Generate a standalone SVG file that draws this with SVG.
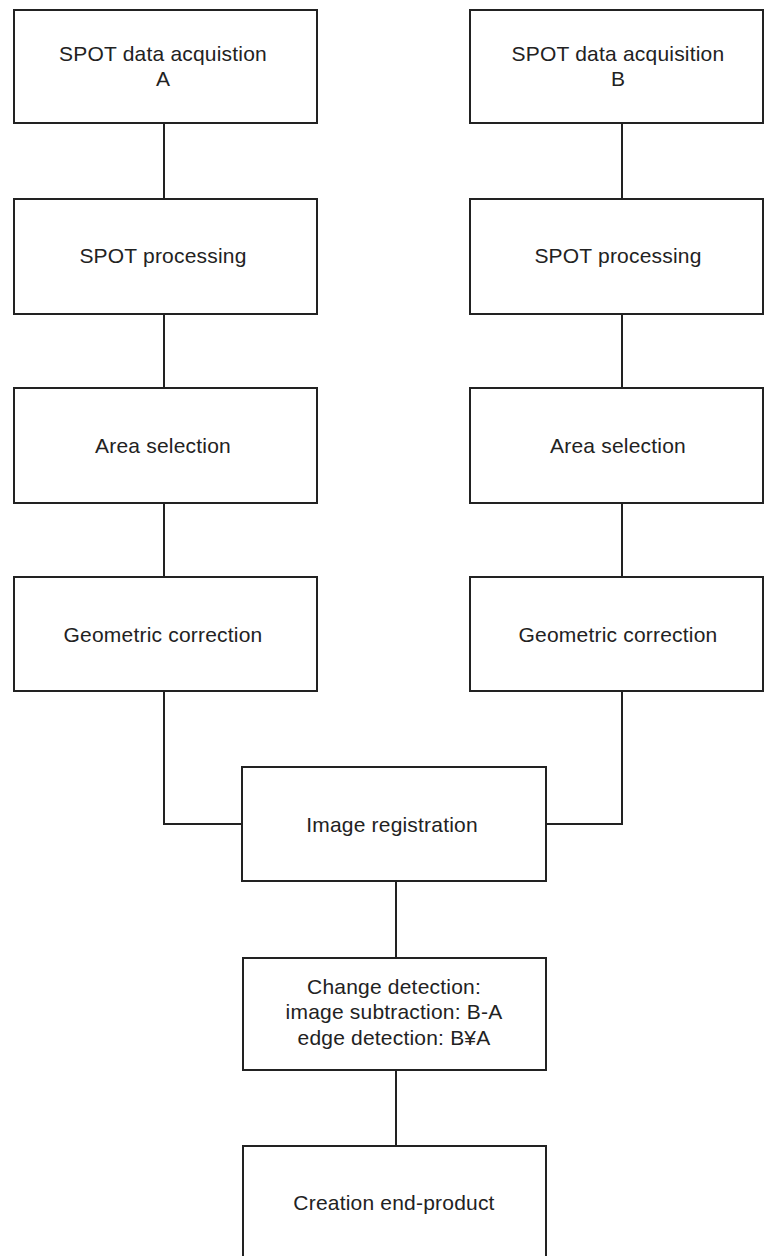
<svg xmlns="http://www.w3.org/2000/svg" width="764" height="1256" viewBox="0 0 764 1256">
<style>
rect{fill:#fff;stroke:#222;stroke-width:2}
text{font-family:"Liberation Sans",Arial,sans-serif;font-size:21px;fill:#222;text-anchor:middle;letter-spacing:0.2px}
.c{fill:none;stroke:#222;stroke-width:2}
</style>
<rect x="0" y="0" width="764" height="1256" style="stroke:none"/>
<g id="connectors">
<path class="c" d="M164 123V199M164 314V388M164 503V577M164 691V824H242"/>
<path class="c" d="M622 123V199M622 314V388M622 503V577M622 691V824H546"/>
<path class="c" d="M396 881V958M396 1070V1146"/>
</g>
<g id="a1"><rect x="14" y="10" width="303" height="113"/><text x="163" y="61">SPOT data acquistion</text><text x="163" y="86">A</text></g>
<g id="a2"><rect x="14" y="199" width="303" height="115"/><text x="163" y="263">SPOT processing</text></g>
<g id="a3"><rect x="14" y="388" width="303" height="115"/><text x="163" y="453">Area selection</text></g>
<g id="a4"><rect x="14" y="577" width="303" height="114"/><text x="163" y="642">Geometric correction</text></g>
<g id="b1"><rect x="470" y="10" width="293" height="113"/><text x="618" y="61">SPOT data acquisition</text><text x="618" y="86">B</text></g>
<g id="b2"><rect x="470" y="199" width="293" height="115"/><text x="618" y="263">SPOT processing</text></g>
<g id="b3"><rect x="470" y="388" width="293" height="115"/><text x="618" y="453">Area selection</text></g>
<g id="b4"><rect x="470" y="577" width="293" height="114"/><text x="618" y="642">Geometric correction</text></g>
<g id="reg"><rect x="242" y="767" width="304" height="114"/><text x="392" y="832">Image registration</text></g>
<g id="chg"><rect x="243" y="958" width="303" height="112"/><text x="394" y="994">Change detection:</text><text x="394" y="1019">image subtraction: B-A</text><text x="394" y="1045">edge detection: B¥A</text></g>
<g id="end"><rect x="243" y="1146" width="303" height="120"/><text x="394" y="1210">Creation end-product</text></g>
</svg>
